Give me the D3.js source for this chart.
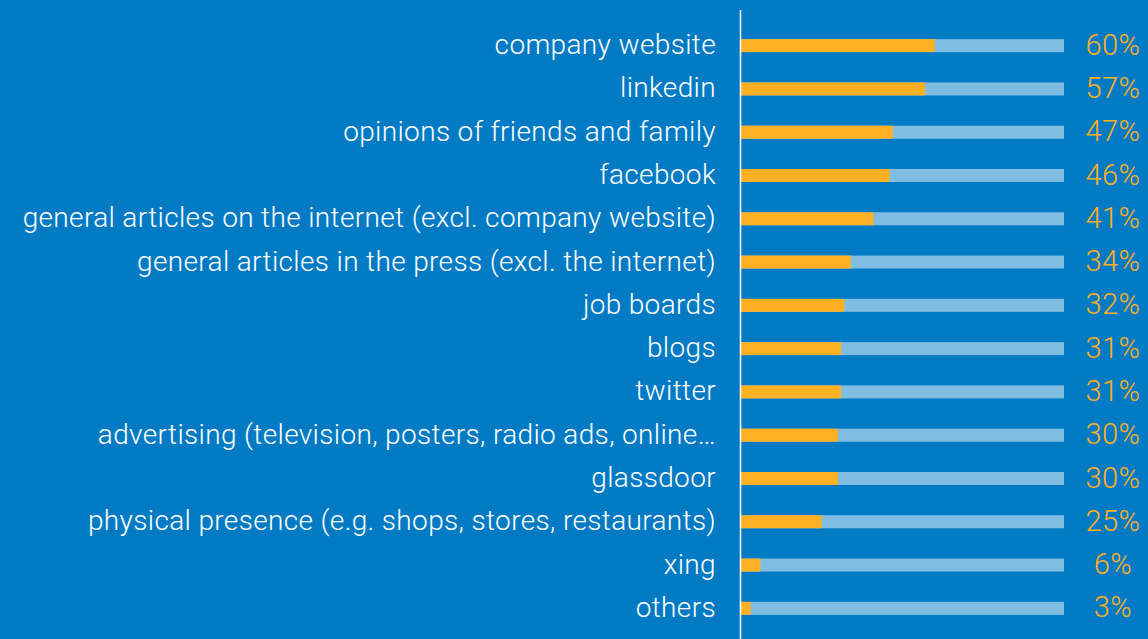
<!DOCTYPE html>
<html>
<head>
<meta charset="utf-8">
<script src="https://cdn.jsdelivr.net/npm/d3@7"></script>
<style>
  html, body { margin: 0; padding: 0; background: #037bc4; }
  svg { display: block; }
</style>
</head>
<body>
<svg id="chart"></svg>
<script>
const categories = [
  "company website",
  "linkedin",
  "opinions of friends and family",
  "facebook",
  "general articles on the internet (excl. company website)",
  "general articles in the press (excl. the internet)",
  "job boards",
  "blogs",
  "twitter",
  "advertising (television, posters, radio ads, online…",
  "glassdoor",
  "physical presence (e.g. shops, stores, restaurants)",
  "xing",
  "others"
];
const values = [60, 57, 47, 46, 41, 34, 32, 31, 31, 30, 30, 25, 6, 3];

const W = 1148, H = 639;
const margin = { top: 24, right: 84, bottom: 9, left: 741 };

const svg = d3.select("#chart")
  .attr("width", W)
  .attr("height", H);

const x = d3.scaleLinear().domain([0, 100]).range([margin.left, W - margin.right]);
const y = d3.scaleBand().domain(categories).range([margin.top, H - margin.bottom]).paddingInner(0.7).paddingOuter(0.35);

const rows = svg.selectAll("g.row")
  .data(categories)
  .join("g")
  .attr("class", "row");

// background track
rows.append("rect")
  .attr("x", x(0))
  .attr("y", d => y(d))
  .attr("width", x(100) - x(0))
  .attr("height", y.bandwidth())
  .attr("fill", "#80bde3");

// value bar
rows.append("rect")
  .attr("x", x(0))
  .attr("y", d => y(d))
  .attr("width", (d, i) => x(values[i]) - x(0))
  .attr("height", y.bandwidth())
  .attr("fill", "#fdb022");

rows.append("text")
  .attr("x", margin.left - 25)
  .attr("y", d => y(d) + y.bandwidth() / 2 - 1)
  .attr("text-anchor", "end")
  .attr("dominant-baseline", "central")
  .style("font-family", "Roboto, sans-serif")
  .style("font-weight", 300)
  .style("font-size", "28px")
  .style("letter-spacing", "0.35px")
  .style("fill", "#fff")
  .text(d => d);

rows.append("text")
  .attr("x", W - 35)
  .attr("y", d => y(d) + y.bandwidth() / 2 - 1)
  .attr("text-anchor", "middle")
  .attr("dominant-baseline", "central")
  .style("font-family", "Roboto, sans-serif")
  .style("font-weight", 300)
  .style("font-size", "29px")
  .style("letter-spacing", "0.5px")
  .style("fill", "#fdb022")
  .text((d, i) => values[i] + "%");

// axis line
svg.append("line")
  .attr("x1", margin.left - 0.5)
  .attr("x2", margin.left - 0.5)
  .attr("y1", 10)
  .attr("y2", H)
  .attr("stroke", "#fff")
  .attr("stroke-width", 1.5);
</script>
</body>
</html>
